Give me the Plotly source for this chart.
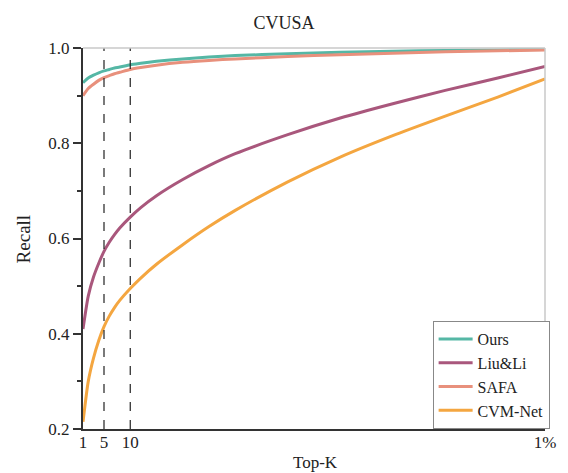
import plotly.graph_objects as go

top_k = [1, 2, 3, 4, 5, 6, 7, 8, 10, 12, 15, 20, 25, 30, 40, 50, 60, 70, 80, 89]
ours = [0.927, 0.937, 0.943, 0.948, 0.952, 0.955, 0.958, 0.960, 0.965, 0.968, 0.972, 0.977,
        0.981, 0.984, 0.988, 0.991, 0.993, 0.995, 0.996, 0.997]
liu_li = [0.410, 0.479, 0.519, 0.548, 0.573, 0.592, 0.608, 0.622, 0.645, 0.665, 0.690, 0.724,
          0.753, 0.778, 0.818, 0.853, 0.883, 0.911, 0.937, 0.961]
safa = [0.900, 0.915, 0.924, 0.932, 0.938, 0.942, 0.946, 0.949, 0.955, 0.959, 0.964, 0.970,
        0.974, 0.977, 0.982, 0.986, 0.989, 0.992, 0.994, 0.996]
cvm_net = [0.215, 0.300, 0.349, 0.386, 0.415, 0.437, 0.455, 0.470, 0.495, 0.517, 0.546, 0.587,
           0.625, 0.659, 0.719, 0.771, 0.816, 0.857, 0.897, 0.935]

series_names = ["Ours", "Liu&Li", "SAFA", "CVM-Net"]
series_vals = [ours, liu_li, safa, cvm_net]
colors = ["#55b7a5", "#a9577c", "#e8907c", "#f4a640"]

x_tickvals = [1, 5, 10, 89]
x_ticktext = ["1", "5", "10", "1%"]
y_tickvals = [0.2, 0.4, 0.6, 0.8, 1.0]
y_minor = [0.3, 0.5, 0.7, 0.9]
dash_k = [5, 10]

FONT = "Liberation Serif, Times New Roman, serif"

fig = go.Figure()
for name, vals, c in zip(series_names, series_vals, colors):
    fig.add_trace(go.Scatter(x=top_k, y=vals, mode="lines", name=name,
                             line=dict(color=c, width=3, shape="spline", smoothing=0.6)))

for k in dash_k:
    fig.add_shape(type="line", xref="x", yref="y", x0=k, x1=k, y0=0.2, y1=1.0,
                  line=dict(color="#222222", width=1.2, dash="dash"))

# light top/right frame
fig.add_shape(type="line", xref="paper", yref="paper", x0=0, x1=1, y0=1, y1=1,
              line=dict(color="#c8c8c8", width=1.5))
fig.add_shape(type="line", xref="paper", yref="paper", x0=1, x1=1, y0=0, y1=1,
              line=dict(color="#c8c8c8", width=1.5))

fig.update_layout(
    width=568, height=473,
    margin=dict(l=83, r=12, t=48, b=44),
    paper_bgcolor="white", plot_bgcolor="white",
    font=dict(family=FONT, size=17, color="#222222"),
    title=dict(text="CVUSA", x=0.5, xref="container", y=0.953, yref="container",
               xanchor="center", yanchor="middle", font=dict(size=18, family=FONT)),
    showlegend=True,
    legend=dict(x=1.01, y=0.0, xanchor="right", yanchor="bottom",
                bordercolor="#888888", borderwidth=1, bgcolor="white",
                font=dict(size=16, family=FONT), tracegroupgap=0, itemwidth=34),
    xaxis=dict(range=[1, 89], tickvals=x_tickvals, ticktext=x_ticktext,
               showgrid=False, zeroline=False, showline=True, linecolor="#333333",
               linewidth=2, ticks="", ticklabelstandoff=-3, tickfont=dict(size=17, family=FONT)),
    yaxis=dict(range=[0.2, 1.0], tickvals=y_tickvals, tickformat=".1f",
               showgrid=False, zeroline=False, showline=True, linecolor="#333333",
               linewidth=2, ticks="outside", ticklen=8, tickwidth=1.5, tickcolor="#333333",
               ticklabelstandoff=0,
               minor=dict(tickvals=y_minor, ticks="outside", ticklen=4,
                          tickwidth=1.5, tickcolor="#333333"),
               tickfont=dict(size=17, family=FONT)),
    annotations=[
        dict(text="Top-K", x=321, y=463, showarrow=False, xanchor="center", yanchor="middle",
             font=dict(size=17, family=FONT)),
        dict(text="Recall", x=23, y=239, showarrow=False,
             textangle=-90, xanchor="center", yanchor="middle", font=dict(size=19, family=FONT)),
    ],
)
# position axis-title annotations in pixel terms converted to paper coords
W, H, L, R, T, B = 568, 473, 83, 12, 48, 44
pw, ph = W - L - R, H - T - B
for a in fig.layout.annotations:
    px, py = a.x, a.y
    a.update(xref="paper", yref="paper", x=(px - L) / pw, y=(H - B - py) / ph)

fig.write_html("out.html")
